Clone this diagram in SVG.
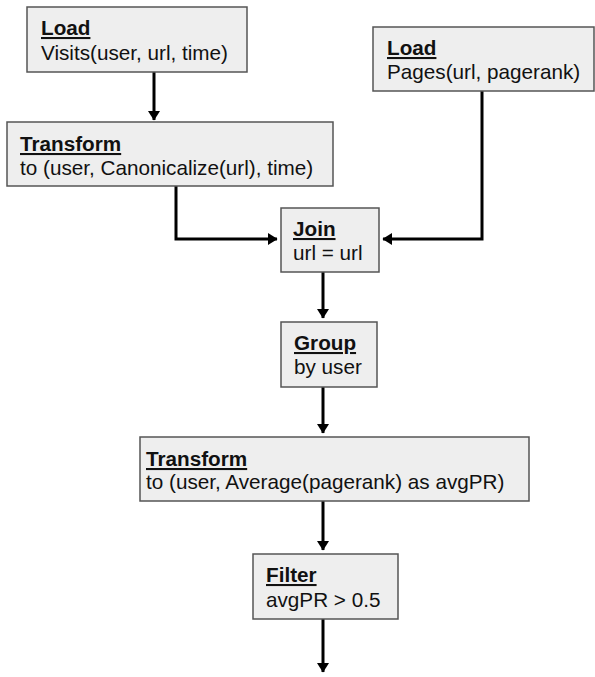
<svg xmlns="http://www.w3.org/2000/svg" width="595" height="677" viewBox="0 0 595 677">
<style>
.box{fill:#eeeeee;stroke:#555555;stroke-width:1.5}
.t{font-family:"Liberation Sans",Arial,sans-serif;font-size:20.7px;fill:#111}
.b{font-weight:bold;text-decoration:underline}
.c{fill:none;stroke:#000;stroke-width:3;marker-end:url(#ah)}
</style>
<defs>
<marker id="ah" markerWidth="4" markerHeight="4" refX="3" refY="2" orient="auto" markerUnits="strokeWidth">
<path d="M0,0 L3.2,2 L0,4 Z" fill="#000"/>
</marker>
</defs>
<rect width="595" height="677" fill="#fff"/>
<g id="connectors">
<path class="c" d="M154,72 V120"/>
<path class="c" d="M176,186 V239 H277"/>
<path class="c" d="M482,91 V239 H383"/>
<path class="c" d="M323,272 V318"/>
<path class="c" d="M323,387 V433"/>
<path class="c" d="M323,501 V550"/>
<path class="c" d="M323,619 V672"/>
</g>
<g id="load-visits">
<rect class="box" x="27" y="7" width="220" height="65"/>
<text class="t b" x="41" y="35">Load</text>
<text class="t" x="41" y="60">Visits(user, url, time)</text>
</g>
<g id="load-pages">
<rect class="box" x="373" y="27" width="221" height="64"/>
<text class="t b" x="387" y="55">Load</text>
<text class="t" x="387" y="79">Pages(url, pagerank)</text>
</g>
<g id="transform1">
<rect class="box" x="7" y="122" width="326" height="64"/>
<text class="t b" x="20" y="151">Transform</text>
<text class="t" x="20" y="175">to (user, Canonicalize(url), time)</text>
</g>
<g id="join">
<rect class="box" x="281" y="208" width="98" height="64"/>
<text class="t b" x="293" y="236">Join</text>
<text class="t" x="293" y="260">url = url</text>
</g>
<g id="group">
<rect class="box" x="281" y="322" width="96" height="65"/>
<text class="t b" x="294" y="350">Group</text>
<text class="t" x="294" y="374">by user</text>
</g>
<g id="transform2">
<rect class="box" x="140" y="437" width="389" height="64"/>
<text class="t b" x="146" y="466">Transform</text>
<text class="t" x="146" y="489">to (user, Average(pagerank) as avgPR)</text>
</g>
<g id="filter">
<rect class="box" x="253" y="554" width="145" height="65"/>
<text class="t b" x="266" y="582">Filter</text>
<text class="t" x="266" y="607">avgPR &gt; 0.5</text>
</g>
</svg>
